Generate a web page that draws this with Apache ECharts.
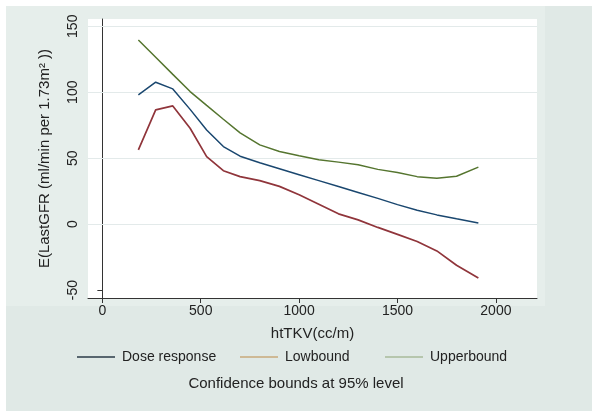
<!DOCTYPE html>
<html>
<head>
<meta charset="utf-8">
<script src="https://cdn.jsdelivr.net/npm/echarts@6/dist/echarts.min.js"></script>
<style>
  html, body { margin: 0; padding: 0; }
  #chart { width: 592px; height: 411px; }
</style>
</head>
<body>
<div id="chart"></div>
<script>
// htTKV (cc/m) values where the curves were evaluated
var tkv = [183, 271, 358, 446, 530, 615, 700, 800, 900, 1000, 1100, 1200, 1300, 1400, 1500, 1600, 1700, 1800, 1911];
var doseResponse = [98, 107.6, 102.5, 87, 71.4, 58.8, 51.5, 46.5, 42, 37.5, 33, 28.5, 24, 19.5, 14.8, 10.5, 7, 4, 0.8];
var lowbound = [56.3, 86.6, 89.6, 72.7, 51.2, 40.5, 36, 33, 28.6, 22.3, 15.1, 7.8, 3.2, -2.5, -7.8, -13.2, -20.3, -31.2, -40.9];
var upperbound = [139.6, 126.5, 113.5, 100.5, 90, 79.5, 69.2, 60.1, 55, 51.8, 48.8, 47, 45, 41.5, 39.2, 36, 34.8, 36.3, 43.2];
var xTicks = [0, 500, 1000, 1500, 2000];
var yTicks = [-50, 0, 50, 100, 150];
var gridValues = [0, 50, 100, 150];

function pairs(xs, ys) {
    return xs.map(function (x, i) { return [x, ys[i]]; });
}

var font = 'Liberation Sans, Arial, sans-serif';
var chart = echarts.init(document.getElementById('chart'));

var legendBase = function (name, left, color) {
    return {
        data: [{ name: name, itemStyle: { color: color } }],
        left: left, top: 350, padding: 0,
        icon: 'rect', itemWidth: 38, itemHeight: 1.5,
        selectedMode: false,
        textStyle: { fontFamily: font, fontSize: 14, color: '#222', padding: [0, 0, 0, 2] }
    };
};

chart.setOption({
    backgroundColor: '#e0e9e6',
    animation: false,
    graphic: [
        { type: 'rect', shape: { x: 0, y: 0, width: 592, height: 6 }, style: { fill: '#fff' }, z: -10 },
        { type: 'rect', shape: { x: 0, y: 0, width: 6, height: 411 }, style: { fill: '#fff' }, z: -10 },
        { type: 'rect', shape: { x: 6, y: 6, width: 539, height: 300 }, style: { fill: '#e6eeeb' }, z: -9 },
        { type: 'rect', shape: { x: 88, y: 19, width: 449, height: 279 }, style: { fill: '#fff' }, z: -8 },
        {
            type: 'text', left: 'center', top: 376, z: 10,
            style: { text: 'Confidence bounds at 95% level', font: '15px ' + font, fill: '#222' }
        }
    ],
    legend: [
        legendBase('Dose response', 77, '#2b3a47'),
        legendBase('Lowbound', 240, '#c9a87a'),
        legendBase('Upperbound', 385, '#a9ba9a')
    ],
    grid: { left: 88, top: 19, right: 55, bottom: 113, containLabel: false },
    xAxis: {
        type: 'value', min: -73, max: 2209,
        name: 'htTKV(cc/m)', nameLocation: 'middle', nameGap: 28,
        nameTextStyle: { fontFamily: font, fontSize: 15, color: '#222' },
        axisLine: { onZero: false, lineStyle: { color: '#333', width: 1 } },
        axisTick: { customValues: xTicks, length: 5, lineStyle: { color: '#333' } },
        axisLabel: {
            customValues: xTicks, fontFamily: font, fontSize: 14, color: '#222', margin: 6,
            formatter: function (v) { return String(v); }
        },
        splitLine: { show: false }
    },
    yAxis: {
        type: 'value', min: -56, max: 155.5,
        name: 'E(LastGFR (ml/min per 1.73m\u00b2 ))', nameLocation: 'middle', nameGap: 36,
        nameTextStyle: { fontFamily: font, fontSize: 15, color: '#222' },
        axisLine: { show: true, lineStyle: { color: '#333', width: 1 } },
        axisTick: { show: true, customValues: yTicks, length: 5, lineStyle: { color: '#333' } },
        axisLabel: {
            customValues: yTicks, rotate: 90, fontFamily: font, fontSize: 14, color: '#222', margin: 8,
            formatter: function (v) { return String(v); }
        },
        splitLine: { show: false }
    },
    series: [
        {
            name: 'Dose response', type: 'line', data: pairs(tkv, doseResponse),
            showSymbol: false, lineStyle: { color: '#1a476f', width: 1.5 }, itemStyle: { color: '#1a476f' },
            markLine: {
                silent: true, symbol: 'none', label: { show: false },
                lineStyle: { color: '#e3eaea', width: 1, type: 'solid' },
                data: gridValues.map(function (v) { return { yAxis: v }; }),
                z: 1
            }
        },
        {
            name: 'Lowbound', type: 'line', data: pairs(tkv, lowbound),
            showSymbol: false, lineStyle: { color: '#90353b', width: 1.7 }, itemStyle: { color: '#90353b' }
        },
        {
            name: 'Upperbound', type: 'line', data: pairs(tkv, upperbound),
            showSymbol: false, lineStyle: { color: '#55752f', width: 1.5 }, itemStyle: { color: '#55752f' }
        }
    ]
});
</script>
</body>
</html>
